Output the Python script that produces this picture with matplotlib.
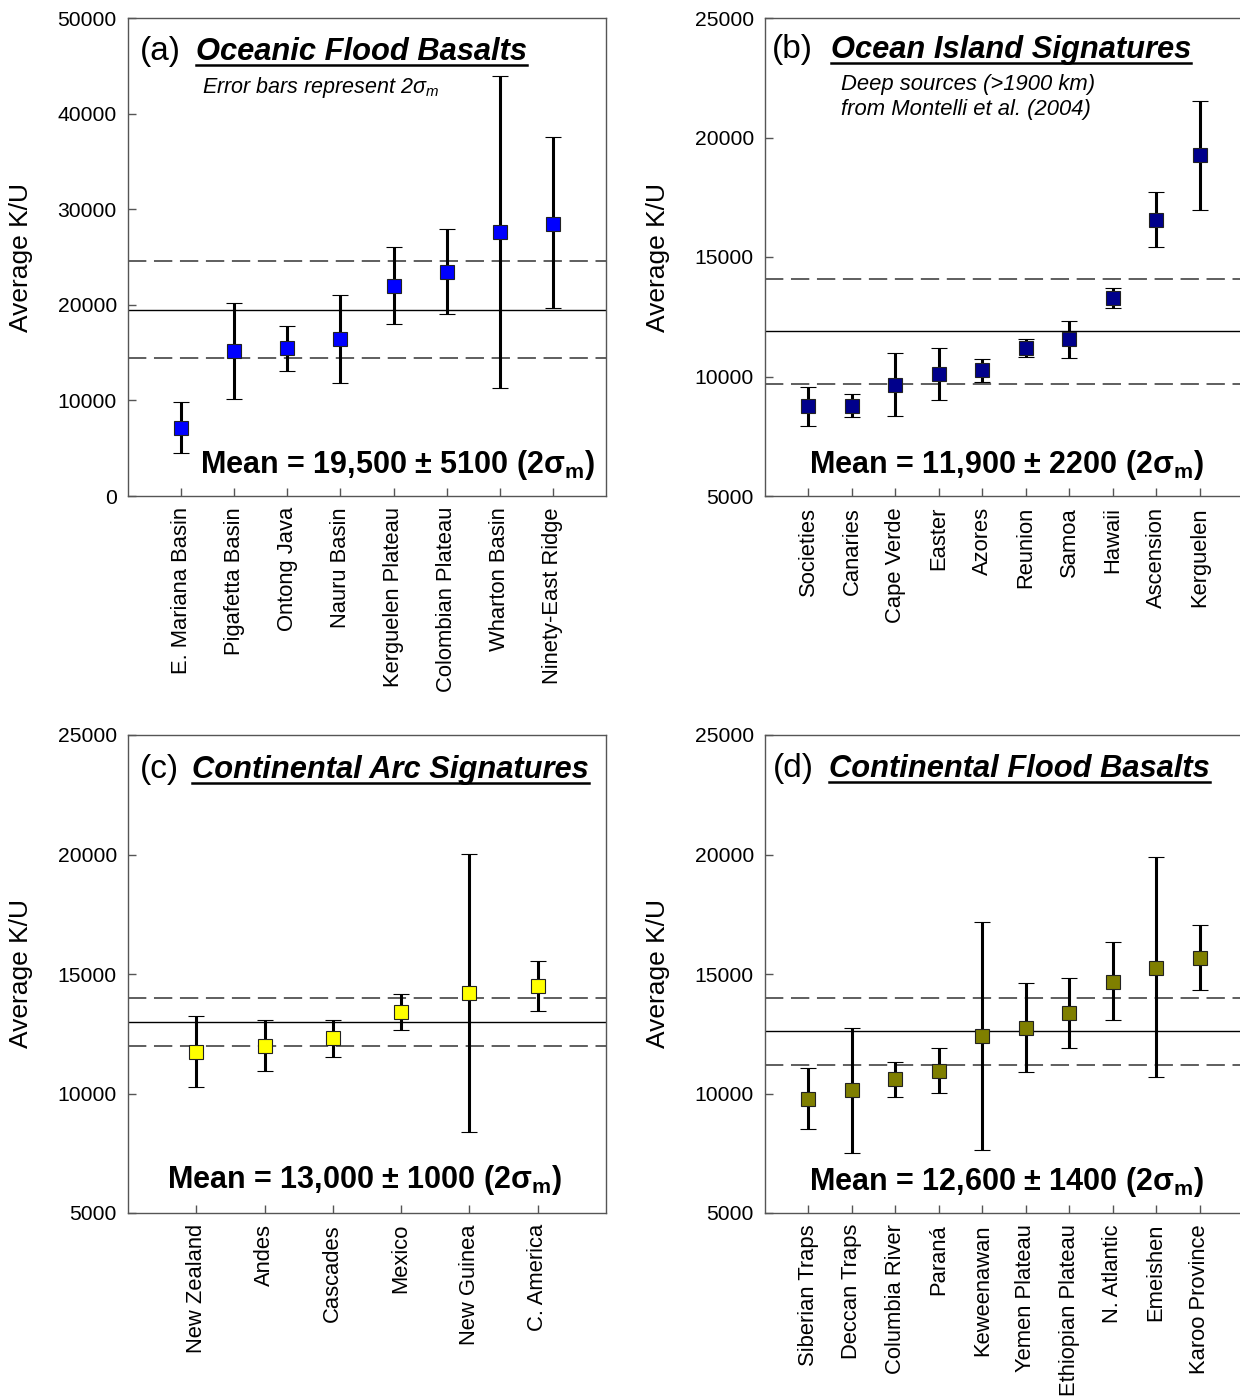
import matplotlib
matplotlib.use("Agg")
import matplotlib.pyplot as plt
from matplotlib.lines import Line2D

plt.rcParams['font.family'] = ['Liberation Sans', 'DejaVu Sans']
plt.rcParams['mathtext.fontset'] = 'custom'
plt.rcParams['mathtext.rm'] = 'Liberation Sans'
plt.rcParams['mathtext.it'] = 'Liberation Sans:italic'
plt.rcParams['mathtext.bf'] = 'Liberation Sans:bold'

# (a) Oceanic flood basalts
names_a = ["E. Mariana Basin", "Pigafetta Basin", "Ontong Java", "Nauru Basin",
           "Kerguelen Plateau", "Colombian Plateau", "Wharton Basin", "Ninety-East Ridge"]
vals_a = [7150, 15150, 15450, 16450, 22000, 23450, 27600, 28500]
lo_a = [4450, 10150, 13100, 11800, 17950, 19050, 11250, 19650]
hi_a = [9800, 20150, 17800, 21050, 26050, 27900, 43950, 37500]

# (b) Ocean island signatures
names_b = ["Societies", "Canaries", "Cape Verde", "Easter", "Azores",
           "Reunion", "Samoa", "Hawaii", "Ascension", "Kerguelen"]
vals_b = [8770, 8770, 9640, 10100, 10270, 11180, 11550, 13270, 16550, 19250]
lo_b = [7930, 8300, 8350, 9020, 9780, 10800, 10760, 12880, 15400, 16970]
hi_b = [9580, 9260, 10970, 11200, 10730, 11570, 12330, 13690, 17730, 21540]

# (c) Continental arc signatures
names_c = ["New Zealand", "Andes", "Cascades", "Mexico", "New Guinea", "C. America"]
vals_c = [11750, 12000, 12320, 13430, 14220, 14500]
lo_c = [10290, 10940, 11510, 12660, 8400, 13470]
hi_c = [13240, 13080, 13080, 14150, 20010, 15540]

# (d) Continental flood basalts
names_d = ["Siberian Traps", "Deccan Traps", "Columbia River", "Paraná", "Keweenawan",
           "Yemen Plateau", "Ethiopian Plateau", "N. Atlantic", "Emeishen", "Karoo Province"]
vals_d = [9770, 10130, 10590, 10940, 12410, 12740, 13360, 14660, 15270, 15670]
lo_d = [8500, 7510, 9870, 10020, 7640, 10880, 11890, 13060, 10670, 14330]
hi_d = [11080, 12760, 11300, 11890, 17180, 14620, 14850, 16320, 19880, 17050]

means = [19500, 11900, 13000, 12600]
sig2 = [5100, 2200, 1000, 1400]

W, H = 1240, 1398
fig = plt.figure(figsize=(W / 100, H / 100), dpi=100)


def px_axes(left, top, right, bottom):
    return fig.add_axes([left / W, (H - bottom) / H, (right - left) / W, (bottom - top) / H])


panels = [
    dict(box=(128, 18, 606, 496), names=names_a, vals=vals_a, lo=lo_a, hi=hi_a,
         color='#0000ff', ylim=(0, 50000), yt=[0, 10000, 20000, 30000, 40000, 50000],
         tag="(a)", title="Oceanic Flood Basalts", tag_x=0.024, title_x=0.142, base_y=0.913,
         mean_text="Mean = 19,500 ± 5100 (2σ$_\\mathbf{m}$)", mean_xy=(0.563, 0.065)),
    dict(box=(765, 18, 1243, 496), names=names_b, vals=vals_b, lo=lo_b, hi=hi_b,
         color='#00008b', ylim=(5000, 25000), yt=[5000, 10000, 15000, 20000, 25000],
         tag="(b)", title="Ocean Island Signatures", tag_x=0.014, title_x=0.138, base_y=0.917,
         mean_text="Mean = 11,900 ± 2200 (2σ$_\\mathbf{m}$)", mean_xy=(0.504, 0.065)),
    dict(box=(128, 735, 606, 1213), names=names_c, vals=vals_c, lo=lo_c, hi=hi_c,
         color='#ffff00', ylim=(5000, 25000), yt=[5000, 10000, 15000, 20000, 25000],
         tag="(c)", title="Continental Arc Signatures", tag_x=0.024, title_x=0.134, base_y=0.911,
         mean_text="Mean = 13,000 ± 1000 (2σ$_\\mathbf{m}$)", mean_xy=(0.494, 0.069)),
    dict(box=(765, 735, 1243, 1213), names=names_d, vals=vals_d, lo=lo_d, hi=hi_d,
         color='#7f7f00', ylim=(5000, 25000), yt=[5000, 10000, 15000, 20000, 25000],
         tag="(d)", title="Continental Flood Basalts", tag_x=0.016, title_x=0.134, base_y=0.913,
         mean_text="Mean = 12,600 ± 1400 (2σ$_\\mathbf{m}$)", mean_xy=(0.504, 0.065)),
]

titles = []
for i, p in enumerate(panels):
    ax = px_axes(*p["box"])
    n = len(p["names"])
    x = list(range(1, n + 1))
    yerr = [[v - l for v, l in zip(p["vals"], p["lo"])],
            [h - v for v, h in zip(p["vals"], p["hi"])]]
    ax.set_xlim(0, n + 1)
    ax.set_ylim(*p["ylim"])

    m, s = means[i], sig2[i]
    ax.axhline(m, color='black', lw=1.0, zorder=1)
    ax.axhline(m + s, color='#333333', lw=1.1, ls=(0, (12, 5)), zorder=1)
    ax.axhline(m - s, color='#333333', lw=1.1, ls=(0, (12, 5)), zorder=1)

    ax.errorbar(x, p["vals"], yerr=yerr, fmt='s', color='black', ecolor='black',
                elinewidth=2.2, capsize=6, capthick=2.2, markersize=9.5,
                markerfacecolor=p["color"], markeredgecolor='#222222',
                markeredgewidth=0.8, zorder=3)

    ax.set_xticks(x)
    ax.set_xticklabels(p["names"], rotation=90, fontsize=15.8)
    ax.set_yticks(p["yt"])
    ax.set_yticklabels([str(v) for v in p["yt"]], fontsize=15.2)
    ax.tick_params(direction='in', length=6, width=1, color='#555555', pad=8,
                   top=False, right=False)
    for sp in ax.spines.values():
        sp.set_color('#555555')
        sp.set_linewidth(1.0)
    ax.set_ylabel("Average K/U", fontsize=19)
    ax.yaxis.set_label_coords(-0.199, 0.5)

    ax.text(p["tag_x"], p["base_y"], p["tag"], transform=ax.transAxes,
            fontsize=24, va='baseline', ha='left')
    t = ax.text(p["title_x"], p["base_y"], p["title"], transform=ax.transAxes,
                fontsize=22.2, fontweight='bold', fontstyle='italic',
                va='baseline', ha='left')
    titles.append((ax, t, p["title_x"], p["base_y"]))

    ax.text(p["mean_xy"][0], p["mean_xy"][1], p["mean_text"], transform=ax.transAxes,
            fontsize=22, fontweight='bold', ha='center', va='center')

    if i == 0:
        ax.text(0.155, 0.843, "Error bars represent 2σ$_m$", transform=ax.transAxes,
                fontsize=15.5, fontstyle='italic', va='baseline', ha='left')
    if i == 1:
        ax.text(0.160, 0.849, "Deep sources (>1900 km)", transform=ax.transAxes,
                fontsize=15.8, fontstyle='italic', va='baseline', ha='left')
        ax.text(0.160, 0.797, "from Montelli et al. (2004)", transform=ax.transAxes,
                fontsize=15.8, fontstyle='italic', va='baseline', ha='left')

# underline the titles
fig.canvas.draw()
renderer = fig.canvas.get_renderer()
for ax, t, tx, ty in titles:
    bb = t.get_window_extent(renderer)
    base = ax.transAxes.transform((tx, ty))[1]
    yline = (base - 5) / H
    fig.add_artist(Line2D([bb.x0 / W, bb.x1 / W], [yline, yline],
                          transform=fig.transFigure, color='black', lw=1.8))

fig.savefig("out.png", dpi=100)
